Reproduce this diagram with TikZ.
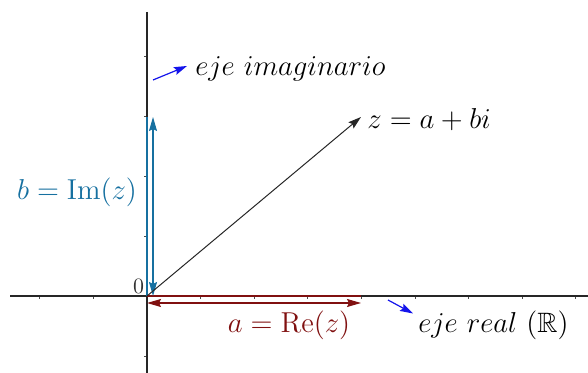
\documentclass[tikz,border=0pt]{standalone}
\usepackage{amsmath,amsfonts}
\usetikzlibrary{arrows.meta}
\definecolor{imcol}{RGB}{22,112,160}
\definecolor{recol}{RGB}{128,16,16}
\definecolor{ptr}{RGB}{20,20,235}
\begin{document}
\begin{tikzpicture}[x=0.5pt,y=-0.5pt,
  lab/.style={font=\fontsize{14}{17}\selectfont, inner sep=0pt},
  axisline/.style={line width=0.55pt, black!85},
  tickline/.style={line width=0.4pt, black!70},
  tip/.style={-{Stealth[length=6.5pt,width=4pt,inset=1pt]}},
  dtip/.style={{Stealth[length=7pt,width=4pt,inset=1pt]}-{Stealth[length=7pt,width=4pt,inset=1pt]}},
  ]
\useasboundingbox (0,0) rectangle (588,373);
% coordinates
\coordinate (O) at (147,296);
\coordinate (Z) at (361,117);
\coordinate (A) at (361,296);
\coordinate (B) at (147,117);
\coordinate (xl) at (10,296);
\coordinate (xr) at (588,296);
\coordinate (yt) at (147,12);
\coordinate (yb) at (147,373);
% ticks
\foreach \k in {-2,-1,1,2,3,4,5,6,7,8}
  \draw[tickline] (147+53.6*\k,296) -- ++(0,3);
\foreach \k in {-1,1,2,3,4}
  \draw[tickline] (147,296-60*\k) -- ++(-3.5,0);
% axes
\draw[axisline] (xl) -- (xr);
\draw[axisline] (yt) -- (yb);
% thick component lines
\draw[imcol, line width=1.3pt] (O) -- (B);
\draw[recol, line width=1.3pt] (O) -- (A);
% thin double arrows
\coordinate (bt) at (153,117);
\coordinate (bb) at (153,296);
\coordinate (al) at (147,303);
\coordinate (ar) at (361,303);
\draw[imcol, line width=0.55pt, dtip] (bb) -- (bt);
\draw[recol, line width=0.55pt, dtip] (al) -- (ar);
% vector z
\draw[black!85, line width=0.5pt, tip] (O) -- (Z);
% labels
\node[lab, anchor=base west] (zl) at (367,129) {$z=a+bi$};
\node[lab, anchor=base west] (ei) at (195,76) {$eje\ imaginario$};
\node[lab, anchor=base west] (er) at (418,333) {$eje\ real\ (\mathbb{R})$};
\node[lab, anchor=base, text=imcol] (bl) at (77,200) {$b=\mathrm{Im}(z)$};
\node[lab, anchor=base, text=recol] (alb) at (289,333) {$a=\mathrm{Re}(z)$};
\node[font=\fontsize{10.5}{12}\selectfont, inner sep=0pt, anchor=base, text=black!80] (zero) at (138.5,293) {$0$};
% pointer arrows
\coordinate (p1s) at (153,80);
\coordinate (p1e) at (187,66);
\coordinate (p2s) at (388,300);
\coordinate (p2e) at (413,313.5);
\draw[ptr, line width=0.6pt, tip] (p1s) -- (p1e);
\draw[ptr, line width=0.6pt, tip] (p2s) -- (p2e);
\end{tikzpicture}
\end{document}
